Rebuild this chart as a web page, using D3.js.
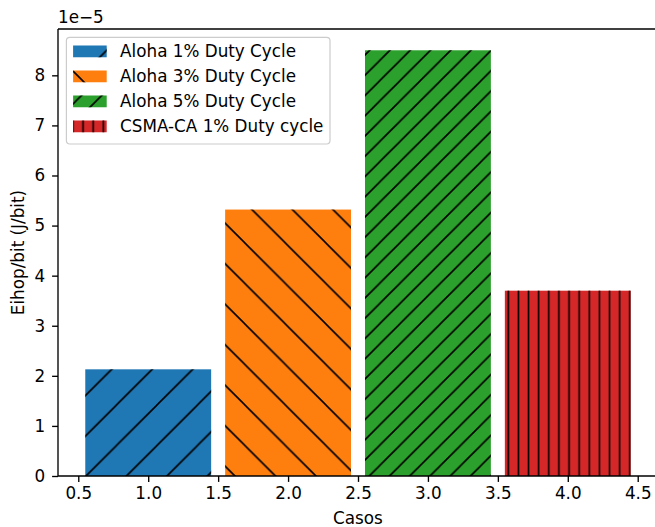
<!DOCTYPE html>
<html>
<head>
<meta charset="utf-8">
<script src="https://cdn.jsdelivr.net/npm/d3@7"></script>
<style>
  html, body { margin: 0; padding: 0; background: #fff; }
  svg { display: block; font-family: "DejaVu Sans", sans-serif; }
</style>
</head>
<body>
<svg id="chart" width="655" height="527"></svg>
<script>
// ---- data ----
const casos = [1, 2, 3, 4];
const seriesLabels = ["Aloha 1% Duty Cycle", "Aloha 3% Duty Cycle", "Aloha 5% Duty Cycle", "CSMA-CA 1% Duty cycle"];
const eihopValues = [2.13e-5, 5.32e-5, 8.50e-5, 3.70e-5];
const xTickValues = [0.5, 1.0, 1.5, 2.0, 2.5, 3.0, 3.5, 4.0, 4.5];
const yTickValues = [0, 1e-5, 2e-5, 3e-5, 4e-5, 5e-5, 6e-5, 7e-5, 8e-5];

// ---- styles ----
const barColors = ["#1f77b4", "#ff7f0e", "#2ca02c", "#d62728"];
const hatchIds = ["h-ne1", "h-se1", "h-ne2", "h-v2"];
const FS = 16.8;
const barWidth = 0.9;

const svg = d3.select("#chart");
svg.append("rect").attr("width", 655).attr("height", 527).attr("fill", "#fff");

const pLeft = 58, pRight = 658, pTop = 29, pBottom = 476;
const x = d3.scaleLinear().domain([0.355, 4.645]).range([pLeft, pRight]);
const yMax = d3.max(eihopValues) * 1.05;
const y = d3.scaleLinear().domain([0, yMax]).range([pBottom, pTop]);

// ---- hatch patterns (absolute user space) ----
const defs = svg.append("defs");
const hw = 1.6;
function diagNE(id, s, phase) {
  const p = defs.append("pattern").attr("id", id).attr("patternUnits", "userSpaceOnUse")
    .attr("width", s).attr("height", s).attr("x", phase).attr("y", 0);
  p.append("path").attr("d", `M-2,2 L2,-2 M0,${s} L${s},0 M${s-2},${s+2} L${s+2},${s-2}`)
    .attr("stroke", "#000").attr("stroke-width", hw).attr("fill", "none");
}
function diagSE(id, s, phase) {
  const p = defs.append("pattern").attr("id", id).attr("patternUnits", "userSpaceOnUse")
    .attr("width", s).attr("height", s).attr("x", phase).attr("y", 0);
  p.append("path").attr("d", `M0,0 L${s},${s} M-2,${s-2} L2,${s+2} M${s-2},-2 L${s+2},2`)
    .attr("stroke", "#000").attr("stroke-width", hw).attr("fill", "none");
}
function vert(id, s, phase) {
  const p = defs.append("pattern").attr("id", id).attr("patternUnits", "userSpaceOnUse")
    .attr("width", s).attr("height", s).attr("x", phase - s / 2).attr("y", 0);
  p.append("path").attr("d", `M${s/2},-1 L${s/2},${s+1}`)
    .attr("stroke", "#000").attr("stroke-width", hw).attr("fill", "none");
}
diagNE("h-ne1", 40.5, 35.5);
diagSE("h-se1", 40.5, 1.9);
diagNE("h-ne2", 20.25, 15.0);
vert("h-v2", 10.125, 2.05);

// ---- bars ----
const bars = svg.append("g");
casos.forEach((c, i) => {
  const x0 = x(c - barWidth / 2), x1 = x(c + barWidth / 2);
  bars.append("rect").attr("x", x0).attr("y", y(eihopValues[i]))
    .attr("width", x1 - x0).attr("height", y(0) - y(eihopValues[i]))
    .attr("fill", barColors[i]);
  bars.append("rect").attr("x", x0).attr("y", y(eihopValues[i]))
    .attr("width", x1 - x0).attr("height", y(0) - y(eihopValues[i]))
    .attr("fill", `url(#${hatchIds[i]})`);
});

// ---- axes ----
const xAxis = d3.axisBottom(x).tickValues(xTickValues).tickFormat(d3.format(".1f"))
  .tickSize(5.9).tickPadding(5.1);
const gx = svg.append("g").attr("transform", `translate(0,${pBottom})`).call(xAxis);
gx.select(".domain").remove();
gx.selectAll("line").attr("stroke", "#000").attr("stroke-width", 1.35);
gx.selectAll("text").attr("font-size", FS).attr("fill", "#000").attr("font-family", "DejaVu Sans");

const yAxis = d3.axisLeft(y).tickValues(yTickValues).tickFormat(d => d3.format("d")(Math.round(d / 1e-5)))
  .tickSize(5.9).tickPadding(7.0);
const gy = svg.append("g").attr("transform", `translate(${pLeft},0)`).call(yAxis);
gy.select(".domain").remove();
gy.selectAll("line").attr("stroke", "#000").attr("stroke-width", 1.35);
gy.selectAll("text").attr("font-size", FS).attr("fill", "#000").attr("font-family", "DejaVu Sans");

// spines
const sp = svg.append("g").attr("stroke", "#000").attr("stroke-width", 1.35).attr("fill", "none");
sp.append("line").attr("x1", pLeft).attr("x2", pRight).attr("y1", pBottom).attr("y2", pBottom);
sp.append("line").attr("x1", pLeft).attr("x2", pRight).attr("y1", pTop).attr("y2", pTop);
sp.append("line").attr("x1", pLeft).attr("x2", pLeft).attr("y1", pTop).attr("y2", pBottom);
sp.append("line").attr("x1", pRight).attr("x2", pRight).attr("y1", pTop).attr("y2", pBottom);

// offset text
svg.append("text").attr("x", pLeft).attr("y", 23.3).attr("font-size", FS).attr("fill", "#000")
  .text("1e\u22125");

// axis labels
svg.append("text").attr("x", (pLeft + pRight) / 2).attr("y", 524).attr("text-anchor", "middle")
  .attr("font-size", FS).attr("fill", "#000").text("Casos");
svg.append("text").attr("transform", `translate(18,${(pTop + pBottom) / 2}) rotate(-90)`)
  .attr("dy", "0.35em").attr("text-anchor", "middle")
  .attr("font-size", FS).attr("fill", "#000").text("Eihop/bit (J/bit)");

// ---- legend ----
const lg = svg.append("g");
lg.append("rect").attr("x", 66.4).attr("y", 37.3).attr("width", 330 - 66.4).attr("height", 144 - 37.3)
  .attr("rx", 3.4).attr("ry", 3.4).attr("fill", "#fff").attr("fill-opacity", 0.8)
  .attr("stroke", "#cccccc").attr("stroke-width", 1.2);
seriesLabels.forEach((lab, i) => {
  const base = 56.7 + i * 25;
  lg.append("rect").attr("x", 73.1).attr("y", base - 11.2).attr("width", 33.6).attr("height", 11.76)
    .attr("fill", barColors[i]);
  lg.append("rect").attr("x", 73.1).attr("y", base - 11.2).attr("width", 33.6).attr("height", 11.76)
    .attr("fill", `url(#${hatchIds[i]})`);
  lg.append("text").attr("x", 120.1).attr("y", base).attr("font-size", FS).attr("fill", "#000").text(lab);
});
</script>
</body>
</html>
